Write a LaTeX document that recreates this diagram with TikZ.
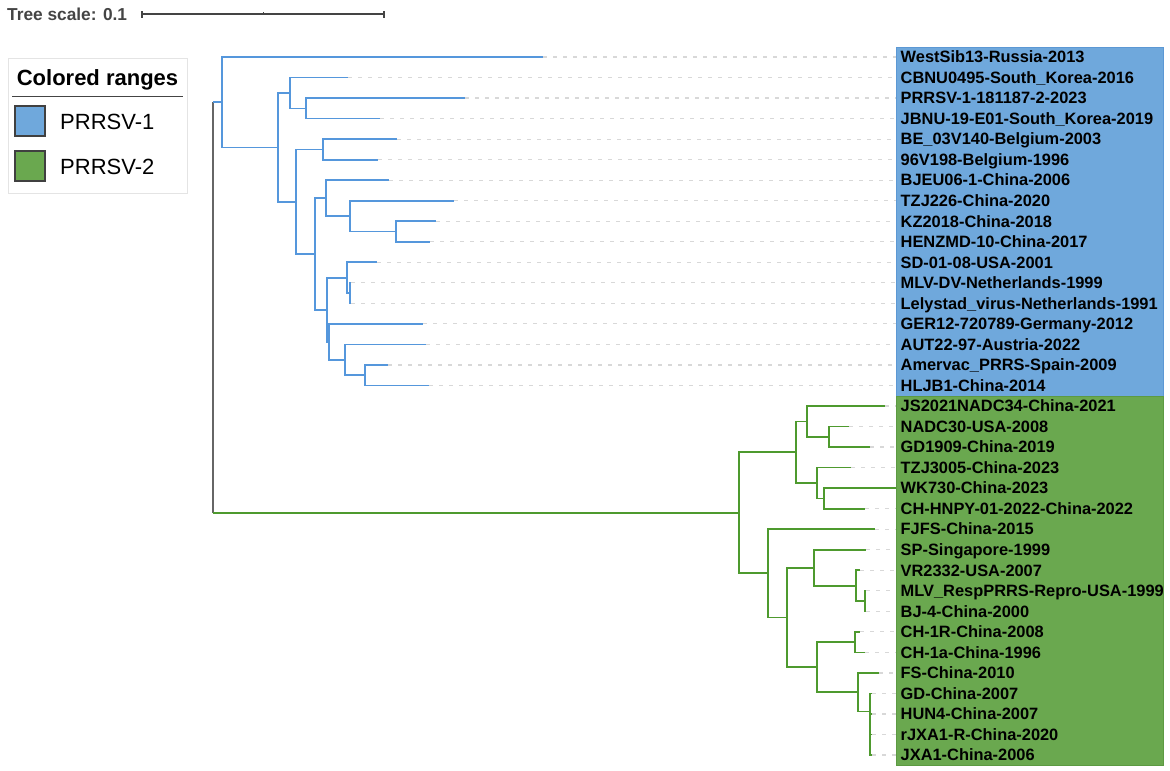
\documentclass[tikz,border=0pt]{standalone}
\usepackage{fontspec}
\setmainfont{Liberation Sans}
\definecolor{blueline}{HTML}{5597DC}
\definecolor{greenline}{HTML}{4E9A2E}
\definecolor{bluefill}{HTML}{6FA8DC}
\definecolor{greenfill}{HTML}{6AA84F}
\definecolor{blueedge}{HTML}{5C98D4}
\definecolor{greenedge}{HTML}{5C9A42}
\definecolor{scalegray}{HTML}{444444}
\definecolor{leadgray}{HTML}{D8D8D8}
\definecolor{legendedge}{HTML}{E4E4E4}
\tikzset{
  bl/.style={draw=blueline, line width=1.7pt},
  gl/.style={draw=greenline, line width=1.7pt},
  rootline/.style={draw=gray!80!black, line width=1.7pt},
  lead/.style={draw=leadgray, line width=1.2pt, dash pattern=on 3.5pt off 6.5pt},
  leaf/.style={anchor=base west, inner xsep=4.5pt, inner ysep=0pt, font=\fontsize{16.4}{16.4}\selectfont\bfseries, text=black},
  legtext/.style={anchor=base west, inner sep=0pt, font=\fontsize{22}{22}\selectfont},
  swatch/.style={draw=black!75, line width=1.2pt},
}
\begin{document}
\begin{tikzpicture}[x=1pt,y=-1pt]
\useasboundingbox (0,0) rectangle (1170,771);
% colored ranges
\fill[bluefill] (896,47) rectangle (1163,396);
\draw[blueedge, line width=1pt] (896,47) rectangle (1163,396);
\fill[greenfill] (896,396) rectangle (1163,765);
\draw[greenedge, line width=1pt] (896,396) rectangle (1163,765);
% tree scale
\node[anchor=base west, inner sep=0pt, text=scalegray, font=\fontsize{17.3}{17.3}\selectfont\bfseries] (ts) at (7,20) {Tree scale: 0.1};
\coordinate (s0) at (142,14);
\coordinate (s1) at (384,14);
\coordinate (sm) at (263,14);
\draw[scalegray, line width=1.2pt] (s0) -- (s1);
\draw[scalegray, line width=1.2pt] ([yshift=-3.5pt]s0) -- ([yshift=3.5pt]s0);
\draw[scalegray, line width=1.2pt] ([yshift=-3.5pt]s1) -- ([yshift=3.5pt]s1);
\draw[scalegray, line width=1pt] (sm) -- ([yshift=2.5pt]sm);
% legend
\node[draw=legendedge, line width=0.8pt, minimum width=179pt, minimum height=135pt, anchor=north west, inner sep=0pt] (leg) at (8,58) {};
\node[anchor=base, inner sep=0pt, font=\fontsize{22}{22}\selectfont\bfseries] (legt) at (97.5,85) {Colored ranges};
\draw[scalegray, line width=1pt] (12,96) -- (183,96);
\node[swatch, fill=bluefill, minimum width=30pt, minimum height=30pt, inner sep=0pt] (sw1) at (30,121) {};
\node[swatch, fill=greenfill, minimum width=30pt, minimum height=30pt, inner sep=0pt] (sw2) at (30,166) {};
\node[legtext] (lg1) at (60,129) {PRRSV-1};
\node[legtext] (lg2) at (60,174) {PRRSV-2};
% leaves
\foreach \i/\tip/\lab in {
 0/543/WestSib13-Russia-2013,
 1/348/CBNU0495-South\_Korea-2016,
 2/465/PRRSV-1-181187-2-2023,
 3/380/JBNU-19-E01-South\_Korea-2019,
 4/397/BE\_03V140-Belgium-2003,
 5/378/96V198-Belgium-1996,
 6/389/BJEU06-1-China-2006,
 7/454/TZJ226-China-2020,
 8/436/KZ2018-China-2018,
 9/430/HENZMD-10-China-2017,
 10/377/SD-01-08-USA-2001,
 11/351/MLV-DV-Netherlands-1999,
 12/351/Lelystad\_virus-Netherlands-1991,
 13/423/GER12-720789-Germany-2012,
 14/426/AUT22-97-Austria-2022,
 15/388/Amervac\_PRRS-Spain-2009,
 16/429/HLJB1-China-2014,
 17/885/JS2021NADC34-China-2021,
 18/849/NADC30-USA-2008,
 19/870/GD1909-China-2019,
 20/851/TZJ3005-China-2023,
 21/896/WK730-China-2023,
 22/865/CH-HNPY-01-2022-China-2022,
 23/875/FJFS-China-2015,
 24/866/SP-Singapore-1999,
 25/860/VR2332-USA-2007,
 26/866/MLV\_RespPRRS-Repro-USA-1999,
 27/866/BJ-4-China-2000,
 28/860/CH-1R-China-2008,
 29/865/CH-1a-China-1996,
 30/879/FS-China-2010,
 31/872/GD-China-2007,
 32/872/HUN4-China-2007,
 33/872/rJXA1-R-China-2020,
 34/872/JXA1-China-2006}{
  \coordinate (t\i) at (\tip,{57+20.53*\i});
  \node[leaf] (n\i) at (896,{57+20.53*\i+5.8}) {\lab};
  \draw[lead] (t\i) -- (t\i -| n\i.west);
}
% internal nodes, PRRSV-1
\coordinate (B0) at (222,102.2);
\coordinate (A) at (278,147.4);
\coordinate (A1) at (290,93.0);
\coordinate (A11) at (306,108.4);
\coordinate (A2) at (296,201.7);
\coordinate (A21) at (323,149.4);
\coordinate (A22) at (315,254.0);
\coordinate (A221) at (326,198.2);
\coordinate (A2211) at (350,216.1);
\coordinate (A22111) at (396,231.5);
\coordinate (A222) at (327,309.8);
\coordinate (B1) at (347,277.7);
\coordinate (B11) at (350,293.1);
\coordinate (B2) at (329,341.9);
\coordinate (B21) at (345,359.9);
\coordinate (B211) at (365,375.3);
% internal nodes, PRRSV-2
\coordinate (G0) at (739,512.7);
\coordinate (G1) at (796,452.2);
\coordinate (G11) at (807,421.4);
\coordinate (G111) at (829,436.8);
\coordinate (G12) at (817,483.0);
\coordinate (G121) at (824,498.4);
\coordinate (G2) at (768,573.3);
\coordinate (G21) at (787,617.4);
\coordinate (G211) at (814,567.7);
\coordinate (G2111) at (856,585.7);
\coordinate (G21111) at (865,601.0);
\coordinate (G212) at (817,667.1);
\coordinate (G2121) at (855,642.1);
\coordinate (G2122) at (858,692.2);
\coordinate (G21221) at (870,711.4);
% root
\coordinate (R) at (213,308);
\draw[rootline] (R |- B0) -- (R |- G0);
\draw[bl] (R |- B0) -- (B0);
\draw[gl] (R |- G0) -- (G0);
\foreach \p/\c in {B0/t0, B0/A, A/A1, A/A2, A1/t1, A1/A11, A11/t2, A11/t3,
  A2/A21, A2/A22, A21/t4, A21/t5, A22/A221, A22/A222, A221/t6, A221/A2211,
  A2211/t7, A2211/A22111, A22111/t8, A22111/t9, A222/B1, A222/B2,
  B1/t10, B1/B11, B11/t11, B11/t12, B2/t13, B2/B21, B21/t14, B21/B211,
  B211/t15, B211/t16}{
  \draw[bl] (\p) |- (\c);
}
\foreach \p/\c in {G0/G1, G0/G2, G1/G11, G1/G12, G11/t17, G11/G111,
  G111/t18, G111/t19, G12/t20, G12/G121, G121/t21, G121/t22,
  G2/t23, G2/G21, G21/G211, G21/G212, G211/t24, G211/G2111,
  G2111/t25, G2111/G21111, G21111/t26, G21111/t27,
  G212/G2121, G212/G2122, G2121/t28, G2121/t29, G2122/t30, G2122/G21221,
  G21221/t31, G21221/t32, G21221/t33, G21221/t34}{
  \draw[gl] (\p) |- (\c);
}
\end{tikzpicture}
\end{document}
